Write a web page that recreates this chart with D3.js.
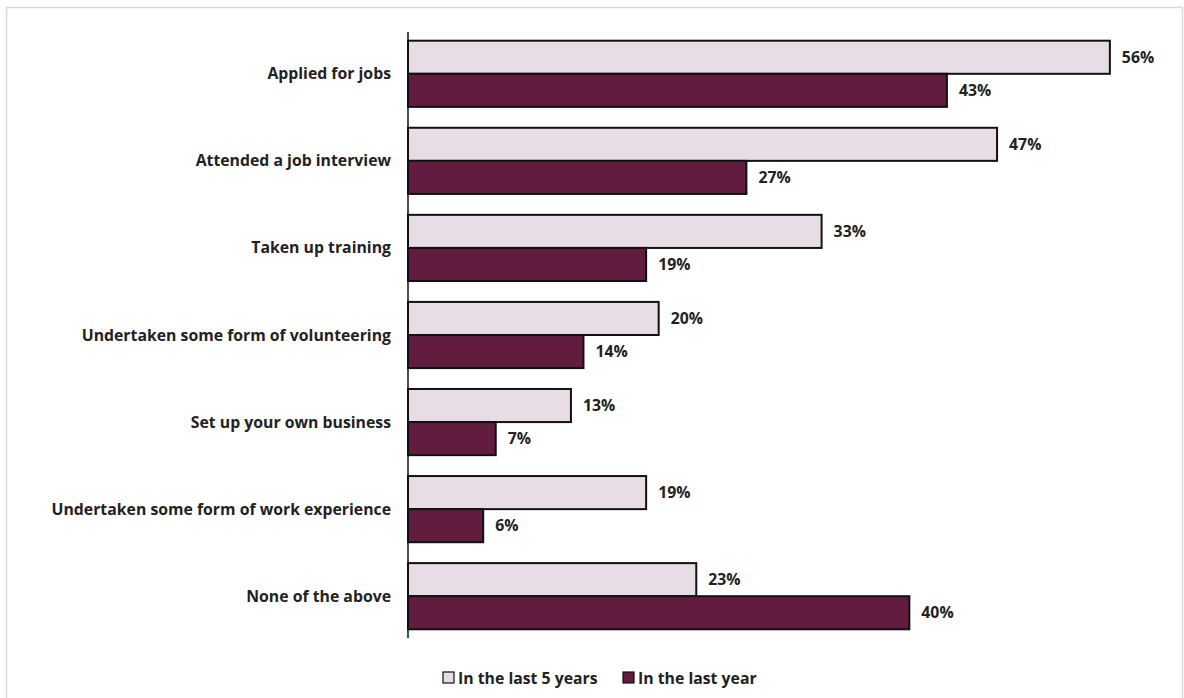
<!DOCTYPE html>
<html><head><meta charset="utf-8">
<script src="https://cdn.jsdelivr.net/npm/d3@7"></script>
<style>body{margin:0;background:#fff;}svg{display:block;}</style>
</head><body>
<script>
const categories = ["Applied for jobs","Attended a job interview","Taken up training","Undertaken some form of volunteering","Set up your own business","Undertaken some form of work experience","None of the above"];
const seriesNames = ["In the last 5 years","In the last year"];
const last5Years = [56,47,33,20,13,19,23];
const lastYear = [43,27,19,14,7,6,40];
const colors = ["#E8DDE6","#611C40"];

const W=1184,H=698;
const svg=d3.select("body").append("svg").attr("width",W).attr("height",H);
svg.append("rect").attr("x",6.5).attr("y",7.5).attr("width",1176).attr("height",700).attr("fill","#fff").attr("stroke","#d9d9d9").attr("stroke-width",1.5);

const x0=408;
const x=d3.scaleLinear().domain([0,60]).range([x0,x0+752]);
const y=d3.scaleBand().domain(categories).range([32,638]).paddingInner(0.24).paddingOuter(0.1);
const y1=d3.scaleBand().domain(seriesNames).range([0,y.bandwidth()]);
const font="'Open Sans', sans-serif";
const fs=15.8;
const data=categories.map((c,i)=>({c,vals:[last5Years[i],lastYear[i]]}));

const g=svg.append("g");
data.forEach(d=>{
  d.vals.forEach((v,j)=>{
    const yy=y(d.c)+y1(seriesNames[j]);
    g.append("rect").attr("x",x(0)).attr("y",yy).attr("width",x(v)-x(0)).attr("height",y1.bandwidth())
      .attr("fill",colors[j]).attr("stroke","#111").attr("stroke-width",2);
    g.append("text").attr("x",x(v)+12).attr("y",yy+y1.bandwidth()/2).attr("dy","0.35em")
      .attr("font-family",font).attr("font-weight","bold").attr("font-size",fs).attr("fill","#222").text(v+"%");
  });
  g.append("text").attr("x",391).attr("y",y(d.c)+y.bandwidth()/2).attr("dy","0.35em").attr("text-anchor","end")
    .attr("font-family",font).attr("font-weight","bold").attr("font-size",fs).attr("fill","#222").text(d.c);
});
svg.append("line").attr("x1",x0).attr("x2",x0).attr("y1",32).attr("y2",638).attr("stroke","#111").attr("stroke-width",1.5);

const leg=svg.append("g");
const legX=[443,623];
seriesNames.forEach((s,j)=>{
  leg.append("rect").attr("x",legX[j]).attr("y",672).attr("width",11).attr("height",11).attr("fill",colors[j]).attr("stroke","#111").attr("stroke-width",1.2);
  leg.append("text").attr("x",legX[j]+15).attr("y",678).attr("dy","0.35em").attr("font-family",font).attr("font-weight","bold").attr("font-size",fs).attr("fill","#222").text(s);
});
</script>
</body></html>
